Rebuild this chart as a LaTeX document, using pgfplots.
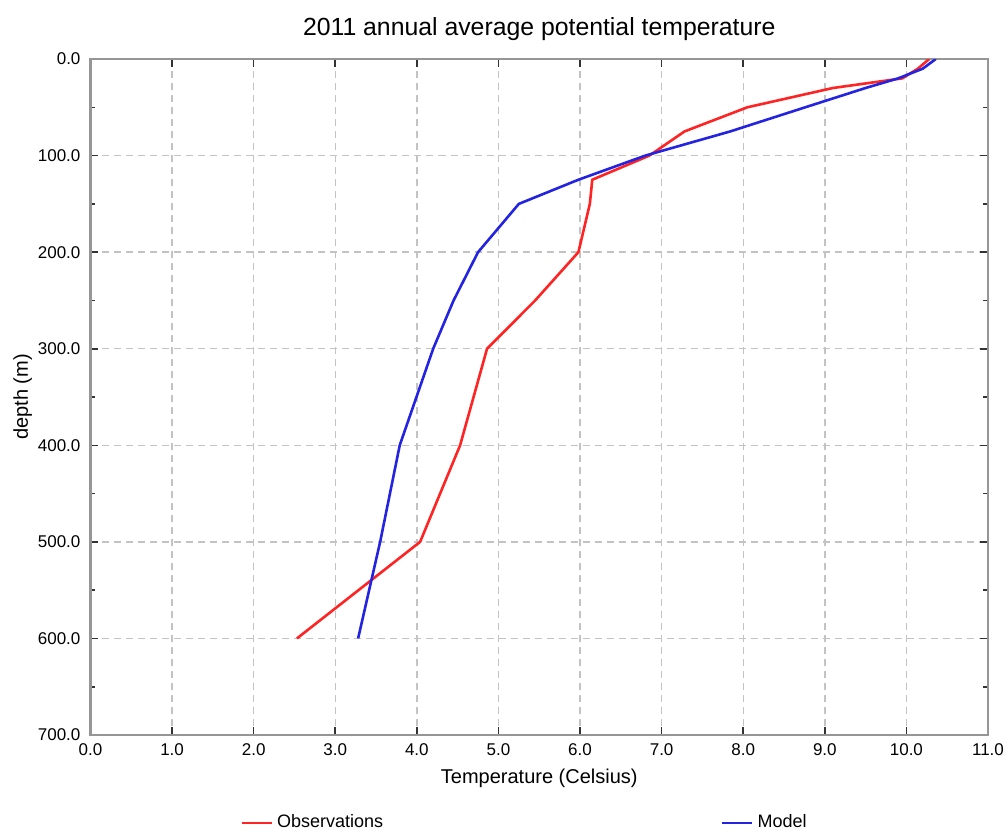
\documentclass[border=0pt]{standalone}
\usepackage{fontspec}
\setmainfont{Liberation Sans}
\usepackage{pgfplots}
\pgfplotsset{compat=1.18}
\definecolor{obsred}{RGB}{255,35,35}
\definecolor{modblue}{RGB}{35,35,225}
\definecolor{framegray}{RGB}{150,150,150}
\definecolor{gridgray}{RGB}{195,195,195}
\begin{document}
\begin{tikzpicture}
\useasboundingbox (-45.25pt,-48.5pt) rectangle (458.75pt,367.5pt);
\begin{axis}[
  at={(0,0)}, anchor=south west,
  scale only axis, width=448.75pt, height=338pt,
  xmin=0, xmax=11, ymin=0, ymax=700, y dir=reverse,
  xtick={0,...,11}, ytick={0,100,...,700}, minor y tick num=1,
  grid=major,
  major grid style={gridgray, line width=0.7pt, dash pattern=on 3.5pt off 2.5pt},
  axis line style={framegray, line width=1.3pt},
  tick style={black!80, line width=0.8pt},
  major tick length=4pt, minor tick length=2.5pt,
  /pgf/number format/assume math mode=true,
  tick label style={font=\fontsize{8.5}{10}\selectfont,
    /pgf/number format/fixed, /pgf/number format/fixed zerofill,
    /pgf/number format/precision=1, /pgf/number format/1000 sep={}},
  xticklabel style={yshift=-1pt},
  yticklabel style={xshift=-1.5pt},
  title={2011 annual average potential temperature},
  every axis title shift=0pt,
  title style={at={(axis description cs:0.5,1.0355)}, anchor=base, font=\fontsize{12.4}{14}\selectfont},
  xlabel={Temperature (Celsius)},
  ylabel={depth (m)},
  xlabel style={at={(axis description cs:0.5,-0.071)}, anchor=base, font=\fontsize{10}{12}\selectfont},
  ylabel style={at={(axis description cs:-0.0697,0.5)}, anchor=base, font=\fontsize{10}{12}\selectfont},
  legend columns=2,
  legend cell align=left,
  legend style={at={(axis description cs:0.1666,-0.130)}, anchor=west, draw=none, fill=none,
    inner sep=0pt, font=\fontsize{9}{11}\selectfont,
    /tikz/every even column/.append style={column sep=167pt}},
  legend image code/.code={\draw[#1] (0pt,0pt) -- (15pt,0pt);},
]
\addplot[obsred, line width=1.3pt] coordinates {
  (10.28,0) (10.14,10) (9.95,20) (9.10,30) (8.05,50) (7.28,75) (6.85,100)
  (6.15,125) (6.12,150) (5.98,200) (5.45,250) (4.86,300) (4.53,400)
  (4.04,500) (2.53,600)
};
\addlegendentry{Observations}
\addplot[modblue, line width=1.3pt] coordinates {
  (10.36,0) (10.20,10) (9.90,20) (9.50,30) (8.76,50) (7.84,75) (6.80,100)
  (5.98,125) (5.25,150) (4.75,200) (4.45,250) (4.20,300) (3.79,400)
  (3.55,500) (3.28,600)
};
\addlegendentry{Model}
\end{axis}
\end{tikzpicture}
\end{document}
